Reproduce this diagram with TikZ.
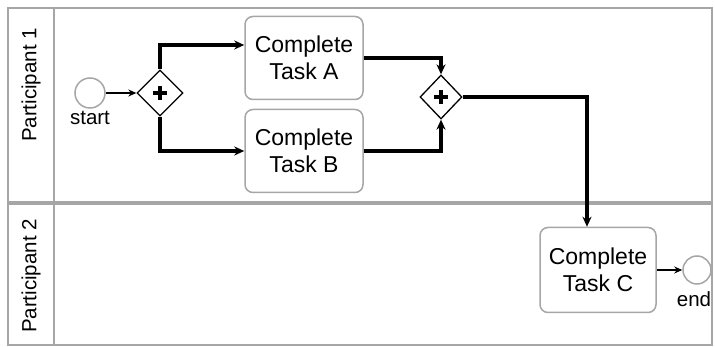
\documentclass[tikz,border=0pt]{standalone}
\usepackage{fontspec}
\setmainfont{Liberation Sans}
\usetikzlibrary{shapes.geometric,arrows.meta,positioning}

\tikzset{
	task/.style={draw=gray!70, rounded corners=8pt, line width=1.5pt, minimum width=118pt, minimum height=83pt, align=center, font=\fontsize{23}{27}\selectfont},
	event/.style={circle, draw=gray!70, line width=1.5pt, inner sep=0pt},
	gate/.style={diamond, draw, line width=1.3pt, inner sep=0pt},
	lane/.style={draw=gray!70, line width=1.5pt},
	flow/.style={line width=3.4pt, -{Stealth[length=10pt,width=9pt]}},
	thinflow/.style={line width=1.4pt, -{Stealth[length=8pt,width=7pt]}},
	plabel/.style={font=\fontsize{20.5}{24}\selectfont},
}

\begin{document}
\begin{tikzpicture}[x=1pt,y=-1pt]
					\useasboundingbox (0,0) rectangle (715,347);
					
					% Lanes
					\draw[lane] (8,8) rectangle (712,202);
					\draw[lane] (8,204) rectangle (712,345);
					\draw[lane] (54,8) -- (54,345);
					\node[plabel, rotate=90] (p1) at (31,85) {Participant 1};
					\node[plabel, rotate=90] (p2) at (31,276) {Participant 2};
					
					% Events
					\node[event, minimum size=30pt] (start) at (90,93) {};
					\node[plabel] (startlbl) at (90,118) {start};
					\node[event, minimum size=28pt] (end) at (697,270) {};
					\node[plabel] (endlbl) at (694,299) {end};
					
					% Gateways
					\node[gate, minimum width=46pt, minimum height=46pt] (split) at (160,93) {};
					\node[gate, minimum width=42pt, minimum height=44pt] (join) at (441,97) {};
					\foreach \g in {split,join} {
						\draw[line width=3.4pt] ([xshift=-7pt]\g.center) -- ([xshift=7pt]\g.center);
						\draw[line width=3.4pt] ([yshift=-7pt]\g.center) -- ([yshift=7pt]\g.center);
					}
					
					% Tasks
					\node[task] (taskA) at (304,58) {Complete\\Task A};
					\node[task] (taskB) at (304,151) {Complete\\Task B};
					\node[task, minimum width=116pt, minimum height=85pt] (taskC) at (598,270) {Complete\\Task C};
					
					% Flows
					\draw[thinflow] (start) -- (split);
					\draw[flow] (split.north) |- ([yshift=13pt]taskA.west);
					\draw[flow] (split.south) |- (taskB.west);
					\draw[flow] (taskA.east) -| (join.north);
					\draw[flow] (taskB.east) -| (join.south);
					\draw[flow] (join.east) -| ([xshift=-11pt]taskC.north);
					\draw[thinflow] (taskC) -- (end);
				\end{tikzpicture}
\end{document}
